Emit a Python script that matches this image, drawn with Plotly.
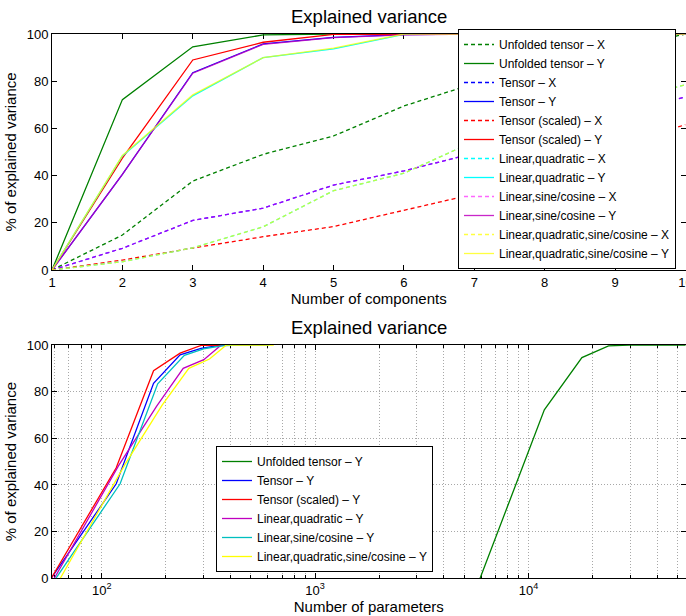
import math
import plotly.graph_objects as go

# ---------------- data ----------------
components = [1, 2, 3, 4, 5, 6, 7, 8, 9, 10]

# top chart: % explained variance vs number of components
unfolded_X = [0, 14.8, 37.7, 49.0, 56.8, 69.5, 79.0, 86.5, 93.5, 100]
unfolded_Y = [0, 72.2, 94.6, 99.6, 100, 100, 100, 100, 100, 100]
tensor_X = [0, 9.2, 21.0, 26.2, 36.0, 42.0, 49.5, 57.5, 65.5, 73.4]
tensor_Y = [0, 40.5, 83.6, 95.8, 98.6, 99.7, 100, 100, 100, 100]
scaled_X = [0, 4.2, 9.3, 14.1, 18.4, 25.4, 32.2, 42.0, 52.0, 61.6]
scaled_Y = [0, 47.4, 89.0, 96.5, 99.8, 100, 100, 100, 100, 100]
linquad_X = [0, 3.5, 9.4, 18.3, 33.6, 41.0, 54.5, 62.5, 70.5, 78.5]
linquad_Y = [0, 48.3, 73.8, 90.0, 93.7, 99.8, 100, 100, 100, 100]
linsin_X = [0, 9.2, 21.0, 26.2, 36.0, 42.0, 49.5, 57.5, 65.5, 73.4]
linsin_Y = [0, 40.5, 83.4, 95.6, 98.5, 99.6, 100, 100, 100, 100]
linquadsin_X = [0, 3.5, 9.4, 18.3, 33.6, 41.0, 54.5, 62.5, 70.5, 78.5]
linquadsin_Y = [0, 48.5, 74.2, 90.0, 94.0, 100, 100, 100, 100, 100]

# bottom chart: number of parameters per model (components 1..10)
params_unfolded = [5930, 11860, 17790, 23720, 29650, 35580, 41510, 47440, 53370, 59300]
params_tensor = [58, 117, 175, 233, 292, 350, 408, 466, 525, 583]
params_scaled = [58, 117, 175, 233, 292, 350, 408, 466, 525, 583]
params_linquad = [60, 120, 181, 241, 301, 361, 421, 482, 542, 602]
params_linsin = [61, 122, 183, 244, 305, 366, 427, 488, 549, 610]
params_linquadsin = [64, 128, 192, 256, 320, 384, 448, 512, 576, 640]

y_ticks = [0, 20, 40, 60, 80, 100]
log_major = [100, 1000, 10000]
log_major_text = ["10<sup>2</sup>", "10<sup>3</sup>", "10<sup>4</sup>"]
log_minor = [60, 70, 80, 90, 200, 300, 400, 500, 600, 700, 800, 900,
             2000, 3000, 4000, 5000, 6000, 7000, 8000, 9000,
             20000, 30000, 40000, 50000]

# ---------------- style ----------------
W, H = 686, 616
FONT = "Liberation Sans, Arial, Helvetica, sans-serif"
GREEN = "#008000"
BLUE = "#0000ff"
RED = "#ff0000"
CYAN = "#00ffff"
MAGENTA = "#ff00ff"
PURPLE = "#bf00bf"
YELLOW = "#ffff00"
TEAL = "#00bfbf"
DASH = "4px,3px"
GRID = "#a8a8a8"
GRIDDASH = "1px,2px"
LW = 1.3

fig = go.Figure()

top = [
    ("Unfolded tensor – X", unfolded_X, GREEN, DASH, 1.0),
    ("Unfolded tensor – Y", unfolded_Y, GREEN, "solid", 1.0),
    ("Tensor – X", tensor_X, BLUE, DASH, 1.0),
    ("Tensor – Y", tensor_Y, BLUE, "solid", 1.0),
    ("Tensor (scaled) – X", scaled_X, RED, DASH, 1.0),
    ("Tensor (scaled) – Y", scaled_Y, RED, "solid", 1.0),
    ("Linear,quadratic – X", linquad_X, CYAN, DASH, 1.0),
    ("Linear,quadratic – Y", linquad_Y, CYAN, "solid", 1.0),
    ("Linear,sine/cosine – X", linsin_X, MAGENTA, DASH, 0.6),
    ("Linear,sine/cosine – Y", linsin_Y, PURPLE, "solid", 0.85),
    ("Linear,quadratic,sine/cosine – X", linquadsin_X, YELLOW, DASH, 0.75),
    ("Linear,quadratic,sine/cosine – Y", linquadsin_Y, YELLOW, "solid", 0.75),
]
for name, vals, color, dash, op in top:
    fig.add_trace(go.Scatter(
        x=components, y=vals, mode="lines", name=name,
        line=dict(color=color, width=LW, dash=dash), opacity=op,
        xaxis="x", yaxis="y", legend="legend"))

bottom = [
    ("Unfolded tensor – Y", params_unfolded, unfolded_Y, GREEN),
    ("Tensor – Y", params_tensor, tensor_Y, BLUE),
    ("Tensor (scaled) – Y", params_scaled, scaled_Y, RED),
    ("Linear,quadratic – Y", params_linquad, linquad_Y, PURPLE),
    ("Linear,sine/cosine – Y", params_linsin, linsin_Y, TEAL),
    ("Linear,quadratic,sine/cosine – Y", params_linquadsin, linquadsin_Y, YELLOW),
]
for name, px, vals, color in bottom:
    fig.add_trace(go.Scatter(
        x=px, y=vals, mode="lines", name=name,
        line=dict(color=color, width=LW),
        xaxis="x2", yaxis="y2", legend="legend2"))

xdom = [52 / W, 685.5 / W]
common_axis = dict(showline=True, linecolor="black", linewidth=1, mirror="ticks",
                   ticks="inside", ticklen=5, tickcolor="black", zeroline=False,
                   automargin=False,
                   tickfont=dict(family=FONT, size=13, color="black"),
                   layer="below traces")

fig.update_layout(
    width=W, height=H, autosize=False,
    margin=dict(l=0, r=0, t=0, b=0, pad=0),
    paper_bgcolor="white", plot_bgcolor="white",
    font=dict(family=FONT, color="black"),
    showlegend=True,
    xaxis=dict(domain=xdom, anchor="y", range=[1, 10], tickmode="array",
               tickvals=components, showgrid=False, ticklabeloverflow="allow",
               title=dict(text="Number of components", standoff=0,
                          font=dict(family=FONT, size=15, color="black")),
               **common_axis),
    yaxis=dict(domain=[1 - 270 / H, 1 - 34 / H], anchor="x", range=[0, 100],
               tickmode="array", tickvals=y_ticks, showgrid=False,
               title=dict(text="% of explained variance", standoff=6,
                          font=dict(family=FONT, size=15, color="black")),
               **common_axis),
    xaxis2=dict(domain=xdom, anchor="y2", type="log",
                range=[math.log10(58.5), math.log10(54400)],
                tickmode="array", tickvals=log_major, ticktext=log_major_text,
                showgrid=True, gridcolor=GRID, griddash=GRIDDASH, gridwidth=1,
                minor=dict(tickmode="array", tickvals=log_minor, ticks="inside",
                           ticklen=3, tickcolor="black", showgrid=True,
                           gridcolor=GRID, griddash=GRIDDASH, gridwidth=1),
                title=dict(text="Number of parameters", standoff=2,
                           font=dict(family=FONT, size=15, color="black")),
                **common_axis),
    yaxis2=dict(domain=[1 - 578.3 / H, 1 - 345 / H], anchor="x2", range=[0, 100],
                tickmode="array", tickvals=y_ticks,
                showgrid=True, gridcolor=GRID, griddash=GRIDDASH, gridwidth=1,
                title=dict(text="% of explained variance", standoff=6,
                           font=dict(family=FONT, size=15, color="black")),
                **common_axis),
    legend=dict(x=676 / W, xanchor="right", y=1 - 149 / H, yanchor="middle",
                bgcolor="white", bordercolor="black", borderwidth=1,
                font=dict(family=FONT, size=12, color="black"), tracegroupgap=0),
    legend2=dict(x=216 / W, xanchor="left", y=1 - 509 / H, yanchor="middle",
                 bgcolor="white", bordercolor="black", borderwidth=1,
                 font=dict(family=FONT, size=12, color="black"), tracegroupgap=0),
    annotations=[
        dict(text="Explained variance", x=368.5 / W, y=1 - 16 / H, xref="paper",
             yref="paper", xanchor="center", yanchor="middle", showarrow=False,
             font=dict(family=FONT, size=18.5, color="black")),
        dict(text="Explained variance", x=368.5 / W, y=1 - 327 / H, xref="paper",
             yref="paper", xanchor="center", yanchor="middle", showarrow=False,
             font=dict(family=FONT, size=18.5, color="black")),
    ],
)

fig.write_html("out.html", config={"displayModeBar": False},
               post_script="document.body.style.margin='0px';")
